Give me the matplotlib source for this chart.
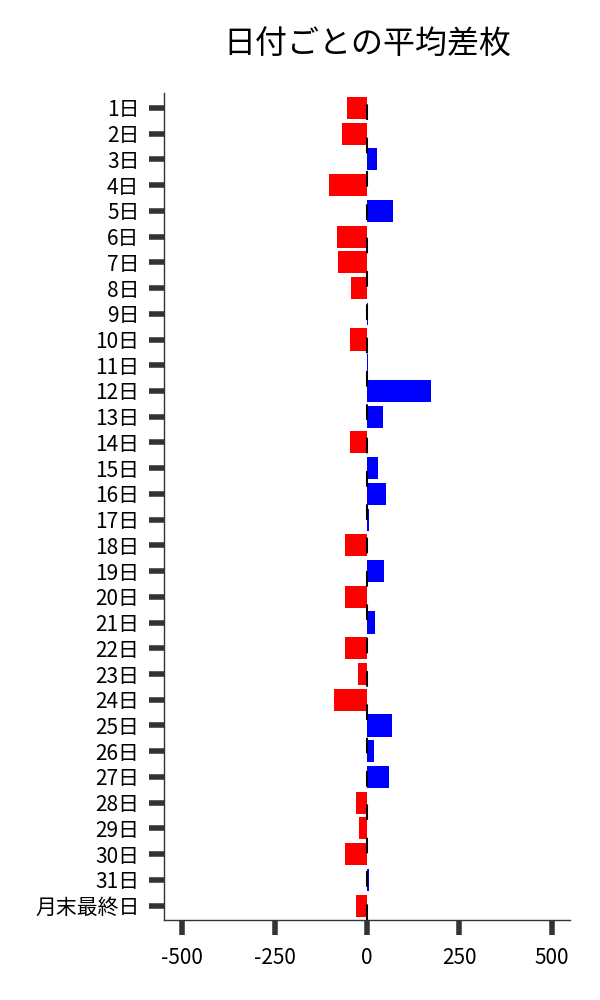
import matplotlib
matplotlib.use("Agg")
import matplotlib.pyplot as plt

plt.rcParams['font.family'] = ['Noto Sans CJK JP', 'DejaVu Sans']
plt.rcParams['axes.unicode_minus'] = False

days = [f"{i}日" for i in range(1, 32)] + ["月末最終日"]
values = [-54, -67, 27, -102, 70, -80, -78, -42, 2, -45,
          3, 173, 43, -47, 29, 53, 7, -59, 45, -59,
          23, -59, -24, -89, 67, 18, 60, -29, -21, -59,
          7, -29]
xticks = [-500, -250, 0, 250, 500]

colors = ['#0000FF' if v > 0 else '#FF0000' for v in values]

fig = plt.figure(figsize=(6, 10), dpi=100)
ax = fig.add_axes([0.273, 0.08, 0.677, 0.827])

pos = list(range(len(days)))
ax.barh(pos, values, height=0.86, color=colors, linewidth=0)
ax.axvline(0, color='black', linewidth=1.5, dashes=(7.5, 8.5))

ax.set_ylim(len(days) - 1 + 0.56, -0.58)
ax.set_xlim(-550, 550)
ax.set_yticks(pos)
ax.set_yticklabels(days)
ax.set_xticks(xticks)
ax.set_xticklabels([str(t) for t in xticks])

for s in ['top', 'right']:
    ax.spines[s].set_visible(False)
for s in ['left', 'bottom']:
    ax.spines[s].set_color('#333333')
    ax.spines[s].set_linewidth(1.0)

ax.tick_params(axis='both', length=10.5, width=4, color='#333333',
               labelsize=15, labelcolor='black', pad=7)
ax.tick_params(axis='x', pad=9)

ax.set_title("日付ごとの平均差枚", fontsize=23, pad=28)

fig.savefig("out.png", dpi=100)
